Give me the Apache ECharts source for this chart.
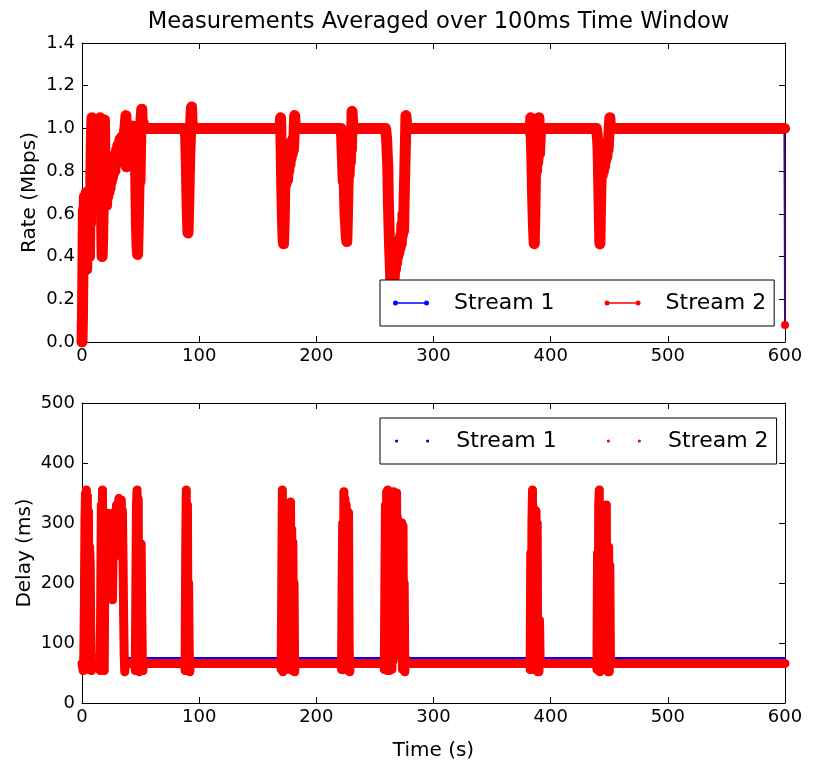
<!DOCTYPE html>
<html>
<head>
<meta charset="utf-8">
<script src="https://cdn.jsdelivr.net/npm/echarts@6/dist/echarts.min.js"></script>
<style>
html,body{margin:0;padding:0;background:#fff;}
#chart{width:817px;height:762px;}
</style>
</head>
<body>
<div id="chart"></div>
<script>
// ---------- data (time in s, value) ----------
const titleText = 'Measurements Averaged over 100ms Time Window';
const seriesNames = ['Stream 1', 'Stream 2'];
const timeTicks = [0, 100, 200, 300, 400, 500, 600];
const rateTicks = [0.0, 0.2, 0.4, 0.6, 0.8, 1.0, 1.2, 1.4];
const delayTicks = [0, 100, 200, 300, 400, 500];

// Rate (Mbps), stream 2 (red, drawn on top)
const rateStream2 = [
[0,0.0],[0.4,0.12],[0.8,0.35],[1.2,0.62],[1.6,0.45],[2,0.68],[2.4,0.38],[2.8,0.66],[3.2,0.5],[3.6,0.7],[4,0.34],[4.4,0.6],[4.8,0.45],[5.2,0.68],[5.6,0.52],[6,0.7],[6.4,0.4],[6.8,0.62],[7.2,0.55],[7.6,0.8],[8,0.95],[8.5,1.05],[9,0.97],[9.5,1.04],[10,0.99],[12,1.01],[14,1.0],[15,0.98],[15.5,1.05],[16,0.92],[16.4,0.75],[16.8,0.55],[17.2,0.4],[17.6,0.48],[18,0.62],[18.4,0.8],[18.8,0.95],[19.2,1.04],[19.6,0.78],[20,0.66],[20.5,0.72],[21,0.64],[21.5,0.74],[22,0.68],[22.5,0.76],[23,0.7],[23.5,0.78],[24,0.72],[24.5,0.8],[25,0.75],[25.5,0.82],[26,0.77],[26.5,0.84],[27,0.79],[27.5,0.86],[28,0.8],[28.5,0.88],[29,0.83],[29.5,0.9],[30,0.85],[30.5,0.92],[31,0.86],[31.5,0.93],[32,0.88],[32.5,0.95],[33,0.9],[34,0.96],[35,0.91],[36,0.97],[37,1.02],[37.5,1.06],[38,0.82],[38.5,0.95],[39,1.02],[40,0.99],[42,1.0],[44,1.01],[45,0.98],[45.5,0.9],[46,0.72],[46.5,0.55],[47,0.45],[47.5,0.41],[48,0.55],[48.5,0.7],[49,0.85],[49.5,0.75],[50,0.92],[50.5,1.05],[51,1.09],[51.5,1.0],[52,1.03],[53,1.0],
[88,1.0],[88.5,0.96],[89,0.85],[89.5,0.7],[90,0.58],[90.5,0.51],[91,0.62],[91.5,0.75],[92,0.88],[92.5,0.95],[93,1.06],[93.5,1.1],[94,1.02],[95,1.0],
[169,1.0],[169.5,1.05],[170,0.9],[170.5,0.72],[171,0.6],[171.5,0.5],[172,0.46],[172.5,0.55],[173,0.7],[173.5,0.78],[174,0.74],[175,0.8],[175.5,0.76],[176,0.84],[176.5,0.8],[177,0.88],[177.5,0.83],[178,0.9],[178.5,0.86],[179,0.94],[179.5,0.88],[180,0.95],[180.5,0.9],[181,0.97],[181.5,1.06],[182,1.01],[183,1.0],
[221,1.0],[221.5,0.98],[222,0.9],[222.5,0.82],[223,0.75],[223.5,0.85],[224,0.7],[224.5,0.6],[225,0.55],[225.5,0.5],[226,0.47],[226.5,0.58],[227,0.72],[227.5,0.82],[228,0.78],[228.5,0.88],[229,0.84],[229.5,0.95],[230,0.9],[230.5,1.08],[231,1.02],[232,1.0],
[259,1.0],[259.5,0.98],[260,0.95],[260.5,0.88],[261,0.82],[261.5,0.65],[262,0.55],[262.5,0.45],[263,0.38],[263.5,0.3],[264,0.26],[264.5,0.24],[265,0.3],[265.5,0.27],[266,0.33],[266.5,0.3],[267,0.36],[267.5,0.34],[268,0.4],[268.5,0.37],[269,0.42],[269.5,0.4],[270,0.45],[270.5,0.42],[271,0.48],[271.5,0.44],[272,0.5],[272.5,0.46],[273,0.55],[273.5,0.5],[274,0.6],[274.5,0.52],[275,0.68],[275.5,0.8],[276,0.92],[276.5,1.06],[277,1.02],[278,1.0],
[382,1.0],[382.5,0.98],[383,1.05],[383.5,0.95],[384,0.85],[384.5,0.7],[385,0.6],[385.5,0.52],[386,0.46],[386.5,0.6],[387,0.78],[387.5,0.85],[388,0.8],[388.5,0.9],[389,0.84],[389.5,0.92],[390,1.05],[390.5,0.88],[391,0.95],[391.5,1.0],[392,1.0],
[439,1.0],[439.5,0.98],[440,0.95],[440.5,0.9],[441,0.75],[441.5,0.6],[442,0.46],[442.5,0.62],[443,0.76],[443.5,0.8],[444,0.78],[444.5,0.83],[445,0.8],[445.5,0.86],[446,0.82],[446.5,0.88],[447,0.85],[447.5,0.9],[448,0.87],[448.5,0.92],[449,0.9],[449.5,0.95],[450,1.0],[450.5,1.05],[451,1.0],[452,1.0],
[599.6,1.0]
];
// final sample of the run, drawn as a thin drop with a marker
const rateEnd = [[599.6,1.0],[600,0.08]];

// Rate (Mbps), stream 1 (blue, almost fully hidden under stream 2)
const rateStream1 = [
[0,0.0],[0.5,0.1],[2,0.65],[8,0.6],[9,1.0],[16,1.0],[17.5,0.42],[19,1.0],[20,0.68],[37,0.95],[38,1.0],[46,1.0],[47.5,0.42],[49,0.95],[50,1.0],
[89,1.0],[90.5,0.52],[92,1.0],[170,1.0],[172,0.47],[174,0.8],[181,1.0],[222,1.0],[226,0.48],[229,1.0],[260,1.0],[264.5,0.26],[272,0.48],[276,1.0],
[383,1.0],[386,0.47],[388,0.85],[390,1.0],[440,1.0],[442,0.47],[445,0.82],[450,1.0],[599.6,1.0],[600,0.08]
];

// Delay (ms), stream 2 (red)
const delayStream2 = [
[0,66],[1,54],[1.5,75],[2,160],[2.5,300],[3,350],[3.3,60],[3.7,355],[4.2,56],[4.6,345],[5,60],[5.5,320],[6,56],[6.5,260],[7,233],[7.5,120],[8,54],[8.5,66],
[15,66],[15.5,54],[16,180],[16.5,330],[17,60],[17.5,355],[18,56],[18.5,320],[19,54],[19.5,250],[20,310],[20.5,200],[21,315],[21.5,190],[22,305],[22.5,230],[23,316],[23.5,210],[24,312],[24.5,250],[25,295],[25.5,200],[26,172],[26.5,240],[27,265],[27.5,300],[28,250],[28.5,320],[29,258],[29.5,330],[30,270],[30.5,320],[31,250],[31.5,341],[32,280],[32.5,335],[33,245],[33.5,338],[34,290],[34.5,320],[35,245],[35.5,150],[36,80],[36.5,52],[37,66],
[45,66],[45.5,54],[46,200],[46.5,330],[47,355],[47.5,60],[48,340],[48.5,56],[49,52],[49.5,260],[50,200],[50.5,265],[51,150],[51.5,70],[52,54],[52.5,66],
[87.5,66],[88,54],[88.5,250],[89,355],[89.5,56],[90,330],[90.5,60],[91,200],[91.5,90],[92,52],[92.5,66],
[169.5,66],[170,56],[170.5,200],[171,355],[171.5,52],[172,320],[172.5,56],[173,327],[173.5,60],[174,300],[174.5,56],[175,320],[175.5,260],[176,325],[176.5,250],[177,310],[177.5,56],[178,335],[178.5,60],[179,290],[179.5,54],[180,268],[180.5,56],[181,200],[181.5,52],[182,66],
[221,66],[221.5,56],[222,200],[222.5,300],[223,56],[223.5,352],[224,60],[224.5,340],[225,56],[225.5,330],[226,60],[226.5,320],[227,56],[227.5,317],[228,100],[228.5,52],[229,66],
[257.5,66],[258,56],[258.5,200],[259,330],[259.5,60],[260,352],[260.5,54],[261,355],[261.5,60],[262,300],[262.5,54],[263,330],[263.5,60],[264,320],[264.5,56],[265,340],[265.5,70],[266,352],[266.5,120],[267,310],[267.5,80],[268,330],[268.5,350],[269,130],[269.5,200],[270,120],[270.5,230],[271,117],[271.5,200],[272,120],[272.5,260],[273,300],[273.5,56],[274,295],[274.5,60],[275,200],[275.5,52],[276,75],[276.5,66],
[382,66],[382.5,56],[383,250],[383.5,60],[384,300],[384.5,355],[385,56],[385.5,320],[386,60],[386.5,322],[387,56],[387.5,320],[388,100],[388.5,300],[389,52],[389.5,140],[390,52],[390.5,138],[391,70],[391.5,66],
[439,66],[439.5,56],[440,250],[440.5,60],[441,330],[441.5,355],[442,52],[442.5,300],[443,56],[443.5,327],[444,60],[444.5,320],[445,56],[445.5,325],[446,270],[446.5,310],[447,260],[447.5,330],[448,56],[448.5,260],[449,52],[449.5,260],[450,52],[450.5,230],[451,80],[451.5,66],
[600,66]
];

// Delay (ms), stream 1 (blue, mostly under stream 2)
const delayStream1 = [
[0,75],[2,75],[3.7,352],[5,300],[7,230],[8.5,80],[15,79],[17.5,350],[19,300],[23,314],[26,172],[31.5,340],[35.5,150],[36.5,75],
[45.5,75],[47,352],[49.5,262],[51.5,75],[88,75],[89,352],[91.5,75],
[170,75],[171,352],[175.5,322],[178,332],[181.5,75],[221.5,75],[223.5,350],[227.5,315],[228.5,75],
[258,75],[261,352],[266,350],[268.5,348],[273,298],[275.5,75],
[382.5,75],[384.5,352],[386.5,320],[390.5,136],[391,75],[439.5,75],[441.5,352],[445.5,322],[447.5,328],[450.5,228],[451,75],[600,75]
];

// ---------- chart ----------
const FONT = 'DejaVu Sans';
const BLUE = '#0000ff';
const RED = '#ff0000';
const chart = echarts.init(document.getElementById('chart'), null, {renderer: 'canvas'});

const lineIcon = 'path://M0,2.5 A2.5,2.5 0 1 1 5,2.5 A2.5,2.5 0 1 1 0,2.5 Z M5,1.8 L31,1.8 L31,3.2 L5,3.2 Z M31,2.5 A2.5,2.5 0 1 1 36,2.5 A2.5,2.5 0 1 1 31,2.5 Z';
const dotIcon = 'path://M0,1.6 A1.6,1.6 0 1 1 3.2,1.6 A1.6,1.6 0 1 1 0,1.6 Z M31,1.6 A1.6,1.6 0 1 1 34.2,1.6 A1.6,1.6 0 1 1 31,1.6 Z';

function tickAxis(extra) {
  return Object.assign({
    type: 'value',
    axisLine: {show: true, onZero: false, lineStyle: {color: '#000', width: 1}},
    axisTick: {show: true, inside: true, length: 6, lineStyle: {color: '#000', width: 1}},
    axisLabel: {show: false},
    splitLine: {show: false}
  }, extra);
}
const labelStyle = {show: true, fontSize: 18, color: '#000', fontFamily: FONT};
const nameStyle = {fontSize: 20, color: '#000', fontFamily: FONT};

const tMin = timeTicks[0], tMax = timeTicks[timeTicks.length - 1], tInt = timeTicks[1] - timeTicks[0];
const rMin = rateTicks[0], rMax = rateTicks[rateTicks.length - 1];
const dMin = delayTicks[0], dMax = delayTicks[delayTicks.length - 1], dInt = delayTicks[1] - delayTicks[0];

function legendCfg(top, icon, iw, ih, padLeft, textPad) {
  return {
    left: 380, top: top, orient: 'horizontal',
    padding: [12, 8, 12, padLeft], itemGap: 50,
    itemWidth: iw, itemHeight: ih,
    backgroundColor: '#fff', borderColor: '#000', borderWidth: 1, borderRadius: 0,
    textStyle: {fontSize: 22, color: '#000', fontFamily: FONT, padding: [0, 0, 0, textPad]},
    itemStyle: {borderWidth: 0},
    selectedMode: false,
    data: seriesNames.map(n => ({name: n, icon: icon}))
  };
}

const option = {
  animation: false,
  backgroundColor: '#fff',
  title: {
    text: titleText, left: 433.5, textAlign: 'center', top: 6,
    textStyle: {fontSize: 22.6, fontWeight: 'normal', color: '#000', fontFamily: FONT}
  },
  legend: [
    legendCfg(280, lineIcon, 36, 5, 13, 20),
    legendCfg(418, dotIcon, 34.2, 3.2, 15, 22)
  ],
  grid: [
    {left: 82, right: 32, top: 43, height: 299, containLabel: false},
    {left: 82, right: 32, top: 403, height: 300, containLabel: false}
  ],
  xAxis: [
    tickAxis({gridIndex: 0, position: 'bottom', min: tMin, max: tMax, interval: tInt,
      axisLabel: Object.assign({margin: 5}, labelStyle)}),
    tickAxis({gridIndex: 0, position: 'top', min: tMin, max: tMax, interval: tInt}),
    tickAxis({gridIndex: 1, position: 'bottom', min: tMin, max: tMax, interval: tInt,
      axisLabel: Object.assign({margin: 5}, labelStyle),
      name: 'Time (s)', nameLocation: 'middle', nameGap: 38, nameMoveOverlap: false, nameTextStyle: nameStyle}),
    tickAxis({gridIndex: 1, position: 'top', min: tMin, max: tMax, interval: tInt})
  ],
  yAxis: [
    tickAxis({gridIndex: 0, position: 'left', min: rMin, max: rMax, interval: 0.2,
      axisLabel: Object.assign({margin: 7, formatter: v => v.toFixed(1)}, labelStyle),
      name: 'Rate (Mbps)', nameLocation: 'middle', nameGap: 42, nameMoveOverlap: false, nameRotate: 90, nameTextStyle: nameStyle}),
    tickAxis({gridIndex: 0, position: 'right', min: rMin, max: rMax, interval: 0.2}),
    tickAxis({gridIndex: 1, position: 'left', min: dMin, max: dMax, interval: dInt,
      axisLabel: Object.assign({margin: 7}, labelStyle),
      name: 'Delay (ms)', nameLocation: 'middle', nameGap: 47, nameMoveOverlap: false, nameRotate: 90, nameTextStyle: nameStyle}),
    tickAxis({gridIndex: 1, position: 'right', min: dMin, max: dMax, interval: dInt})
  ],
  series: [
    {name: seriesNames[0], type: 'line', xAxisIndex: 0, yAxisIndex: 0, data: rateStream1,
     showSymbol: false, color: BLUE, z: 2,
     lineStyle: {color: BLUE, width: 2, join: 'round', cap: 'round'}},
    {name: seriesNames[1], type: 'line', xAxisIndex: 0, yAxisIndex: 0, data: rateStream2,
     showSymbol: true, showAllSymbol: true, symbol: 'circle', symbolSize: 9, color: RED, z: 3,
     itemStyle: {color: RED, borderWidth: 0},
     lineStyle: {color: RED, width: 11, join: 'round', cap: 'round'}},
    {name: seriesNames[1], type: 'line', xAxisIndex: 0, yAxisIndex: 0, data: rateEnd,
     showSymbol: true, showAllSymbol: true, symbol: 'circle', symbolSize: 8, color: RED, z: 3,
     itemStyle: {color: RED, borderWidth: 0},
     lineStyle: {color: '#5a0a3a', width: 1.5}},
    {name: seriesNames[0], type: 'line', xAxisIndex: 2, yAxisIndex: 2, data: delayStream1,
     showSymbol: false, color: BLUE, z: 2,
     lineStyle: {color: BLUE, width: 2, join: 'round', cap: 'round'}},
    {name: seriesNames[1], type: 'line', xAxisIndex: 2, yAxisIndex: 2, data: delayStream2,
     showSymbol: true, showAllSymbol: true, symbol: 'circle', symbolSize: 8, color: RED, z: 3,
     itemStyle: {color: RED, borderWidth: 0},
     lineStyle: {color: RED, width: 9, join: 'round', cap: 'round'}}
  ]
};
chart.setOption(option);
</script>
</body>
</html>
